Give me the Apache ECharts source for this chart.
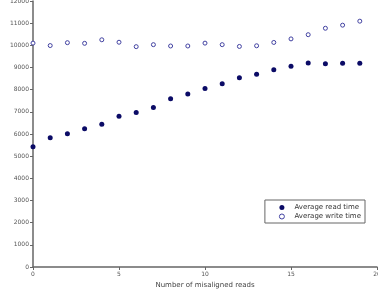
<!DOCTYPE html>
<html>
<head>
<meta charset="utf-8">
<style>
    html, body { margin: 0; padding: 0; background: #fff; }
    #chart { width: 378px; height: 295px; }
</style>
<script src="https://cdn.jsdelivr.net/npm/echarts@6/dist/echarts.min.js"></script>
</head>
<body>
<div id="chart"></div>
<script>
    // misaligned reads 0..19
    var misaligned = [0, 1, 2, 3, 4, 5, 6, 7, 8, 9, 10, 11, 12, 13, 14, 15, 16, 17, 18, 19];
    var readTime = [5430, 5830, 6010, 6240, 6440, 6800, 6970, 7200, 7590, 7810, 8050, 8270, 8540, 8690, 8900, 9060, 9200, 9170, 9190, 9190];
    var writeTime = [10100, 9990, 10120, 10090, 10250, 10140, 9940, 10030, 9970, 9970, 10100, 10030, 9950, 9980, 10130, 10290, 10480, 10770, 10910, 11090];

    function pairs(xs, ys) {
        var out = [];
        for (var i = 0; i < xs.length; i++) out.push([xs[i], ys[i]]);
        return out;
    }

    var axisText = { color: '#555', fontSize: 6, fontFamily: 'DejaVu Sans', formatter: function (v) { return String(v); } };

    var chart = echarts.init(document.getElementById('chart'));
    chart.setOption({
        animation: false,
        grid: { left: 33, right: 1, top: 1, bottom: 28, containLabel: false, outerBoundsMode: 'none' },
        legend: {
            orient: 'vertical',
            right: 13, top: 200,
            padding: [4, 4, 3, 14],
            itemGap: 2,
            itemWidth: 5, itemHeight: 5,
            borderColor: '#666', borderWidth: 1,
            textStyle: { color: '#333', fontSize: 7, fontFamily: 'DejaVu Sans', padding: [0, 0, 0, 5] },
            data: [
                { name: 'Average read time', icon: 'circle' },
                { name: 'Average write time', icon: 'circle',
                  itemStyle: { color: '#ffffff', borderColor: '#4040a0', borderWidth: 1 } }
            ]
        },
        xAxis: {
            type: 'value', min: 0, max: 20, interval: 5,
            name: 'Number of misaligned reads',
            nameLocation: 'middle', nameGap: 15,
            nameTextStyle: { color: '#444', fontSize: 7, fontFamily: 'DejaVu Sans' },
            axisLine: { lineStyle: { color: '#666', width: 1.5 } },
            axisTick: { length: 3, lineStyle: { color: '#666' } },
            axisLabel: Object.assign({ margin: 4 }, axisText),
            splitLine: { show: false }
        },
        yAxis: {
            type: 'value', min: 0, max: 12000, interval: 1000,
            name: 'Time (cycles)',
            nameLocation: 'middle', nameGap: 26,
            nameTextStyle: { color: '#444', fontSize: 7, fontFamily: 'DejaVu Sans' },
            axisLine: { show: true, lineStyle: { color: '#666', width: 1.5 } },
            axisTick: { show: true, length: 3, lineStyle: { color: '#666' } },
            axisLabel: Object.assign({ margin: 4 }, axisText),
            splitLine: { show: false }
        },
        series: [
            {
                name: 'Average read time',
                type: 'scatter',
                symbol: 'circle',
                symbolSize: 5,
                itemStyle: { color: '#0b0b66', opacity: 1 },
                data: pairs(misaligned, readTime)
            },
            {
                name: 'Average write time',
                type: 'scatter',
                symbol: 'circle',
                symbolSize: 4,
                itemStyle: { color: '#ffffff', borderColor: '#4040a0', borderWidth: 1, opacity: 1 },
                data: pairs(misaligned, writeTime)
            }
        ]
    });
</script>
</body>
</html>
